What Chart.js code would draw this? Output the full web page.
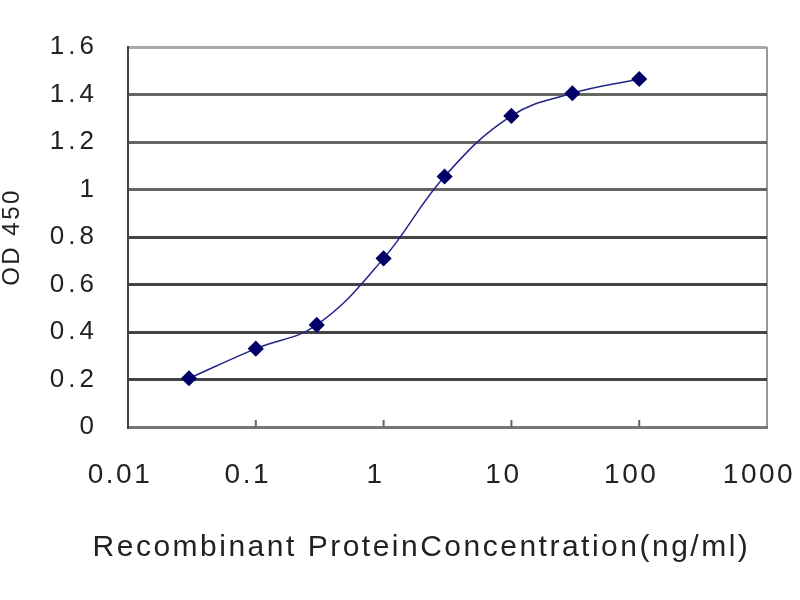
<!DOCTYPE html>
<html>
<head>
<meta charset="utf-8">
<script src="https://cdn.jsdelivr.net/npm/chart.js@4/dist/chart.umd.min.js"></script>
<style>
  html, body { margin: 0; padding: 0; background: #fff; }
  canvas { display: block; }
</style>
</head>
<body>
<canvas id="odChart" width="800" height="600"></canvas>
<script>
// concentration (ng/ml) and OD 450 readings
const concentrations = [0.03, 0.1, 0.3, 1, 3, 10, 30, 100];
const odValues = [0.205, 0.33, 0.43, 0.71, 1.055, 1.31, 1.405, 1.465];

const xTickValues = [0.01, 0.1, 1, 10, 100, 1000];
const xTickLabels = ["0.01", "0.1", "1", "10", "100", "1000"];
const yTickLabels = ["0", "0.2", "0.4", "0.6", "0.8", "1", "1.2", "1.4", "1.6"];

const FONT = "'Liberation Sans', Arial, sans-serif";

// letter spacing: titles + x ticks drawn before datasets, y ticks after
const spacingPlugin = {
  id: "spacing",
  beforeDraw(chart) { chart.ctx.letterSpacing = "2.5px"; },
  afterDatasetsDraw(chart) { chart.ctx.letterSpacing = "4px"; }
};

// little inner tick marks on the x axis
const innerTicks = {
  id: "innerTicks",
  beforeDatasetsDraw(chart) {
    const ctx = chart.ctx;
    const x = chart.scales.x;
    const bottom = chart.chartArea.bottom;
    ctx.save();
    ctx.strokeStyle = "#666";
    ctx.lineWidth = 2;
    xTickValues.slice(1, -1).forEach(v => {
      const px = x.getPixelForValue(v);
      ctx.beginPath();
      ctx.moveTo(px, bottom);
      ctx.lineTo(px, bottom - 7);
      ctx.stroke();
    });
    ctx.restore();
  }
};

new Chart(document.getElementById("odChart").getContext("2d"), {
  type: "line",
  data: {
    datasets: [{
      data: concentrations.map((c, i) => ({ x: c, y: odValues[i] })),
      borderColor: "#23238c",
      borderWidth: 1.5,
      tension: 0.4,
      pointStyle: "rectRot",
      pointRadius: 7,
      pointBackgroundColor: "#000066",
      pointBorderColor: "#000066",
      fill: false
    }]
  },
  options: {
    responsive: false,
    devicePixelRatio: 1,
    animation: false,
    layout: { padding: { top: 47, right: 33, left: 0, bottom: 0 } },
    plugins: {
      legend: { display: false },
      tooltip: { enabled: false },
      title: {
        display: true,
        position: "bottom",
        // leading spaces nudge the centred title to the right
        text: "       Recombinant ProteinConcentration(ng/ml)",
        color: "#222",
        font: { family: FONT, size: 30, weight: "normal", lineHeight: 1 },
        padding: { top: 0, bottom: 37 }
      }
    },
    scales: {
      x: {
        type: "logarithmic",
        min: 0.01,
        max: 1000,
        afterBuildTicks: s => { s.ticks = xTickValues.map(v => ({ value: v })); },
        afterFit: s => { s.height = 106; s.paddingLeft = 0; s.paddingRight = 0; },
        ticks: {
          autoSkip: false,
          maxRotation: 0,
          padding: 31,
          labelOffset: -8,
          color: "#222",
          font: { family: FONT, size: 28 },
          callback: (v, i) => xTickLabels[i]
        },
        grid: {
          drawTicks: false,
          color: c => (c.tick && c.tick.value === 1000) ? "#999" : "rgba(0,0,0,0)",
          lineWidth: 2
        },
        border: { color: "#777", width: 3 }
      },
      y: {
        min: 0,
        max: 1.6,
        afterFit: s => { s.width = 128; },
        ticks: {
          stepSize: 0.2,
          padding: 30,
          z: 1,
          color: "#222",
          font: { family: FONT, size: 26 },
          callback: (v, i) => yTickLabels[i]
        },
        grid: {
          drawTicks: false,
          color: c => {
            if (!c.tick) return "#555";
            if (c.tick.value >= 1.59) return "#aaa";
            if (c.tick.value === 0) return "rgba(0,0,0,0)";
            if (c.tick.value >= 0.99) return "#666";
            return "#444";
          },
          lineWidth: 3
        },
        border: { color: "#444", width: 2 },
        title: {
          display: true,
          text: "OD 450",
          color: "#222",
          font: { family: FONT, size: 24, lineHeight: 1 },
          padding: { top: 0, bottom: 0 }
        }
      }
    }
  },
  plugins: [spacingPlugin, innerTicks]
});
</script>
</body>
</html>
